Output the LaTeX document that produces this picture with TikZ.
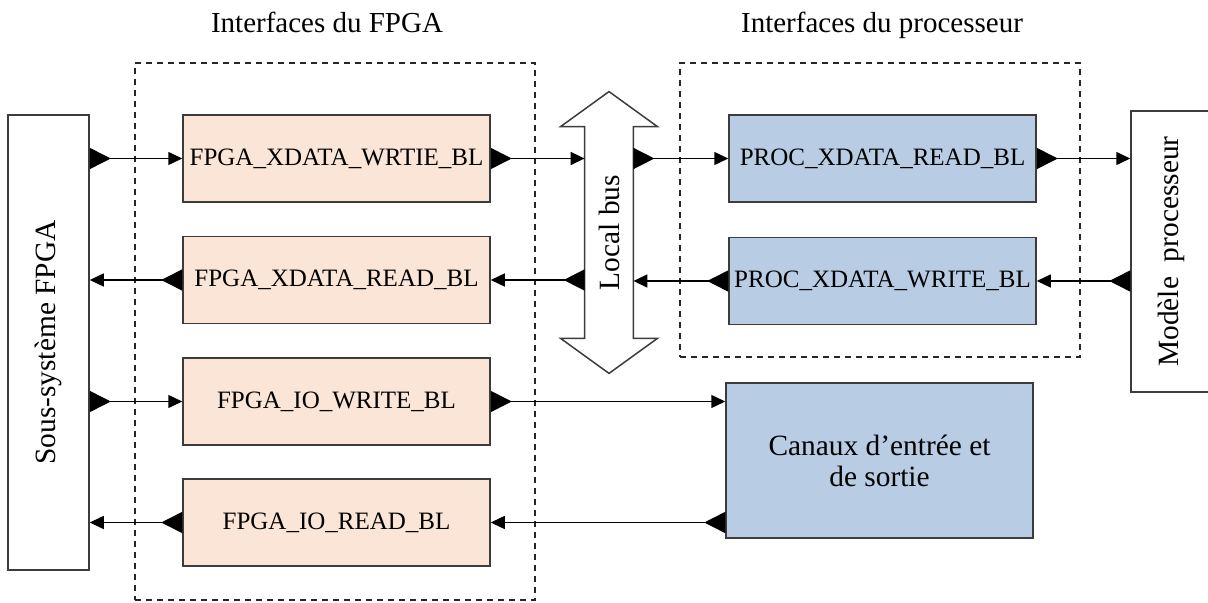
\documentclass[tikz,border=0pt]{standalone}
\usepackage{fontspec}
\setmainfont{Liberation Serif}
\usepackage{graphicx}
\usetikzlibrary{positioning, arrows.meta, calc}
\definecolor{cFpga}{RGB}{251,229,214}
\definecolor{cProc}{RGB}{184,204,228}
\definecolor{cEdge}{RGB}{60,60,60}

\begin{document}
\begin{tikzpicture}[x=0.5pt, y=-0.5pt,
    box/.style={draw=cEdge, line width=0.75pt, inner sep=0pt, minimum width=153.5pt, minimum height=43.5pt, font=\fontsize{12.5}{14}\selectfont},
    fpga/.style={box, fill=cFpga},
    proc/.style={box, fill=cProc},
    ext/.style={draw=cEdge, line width=0.75pt, inner sep=0pt, minimum width=40.5pt, font=\fontsize{14.7}{17}\selectfont},
    frame/.style={draw=black!85, dash pattern=on 3pt off 2.5pt, line width=0.6pt, inner sep=0pt},
    title/.style={font=\fontsize{14.5}{17}\selectfont, anchor=base},
    flow/.style={draw, line width=0.75pt, {Triangle[reversed, length=10.5pt, width=10.5pt]}-{Triangle[length=7pt, width=6.5pt]}}]
    \useasboundingbox (0,0) rectangle (1208,603);

    % groups
    \node[frame, minimum width=200pt, minimum height=268.5pt] (FF) at (335,331.5) {};
    \node[frame, minimum width=200pt, minimum height=147pt] (PF) at (880,210) {};
    \node[title] (TF) at (327,33) {Interfaces du FPGA};
    \node[title] (TP) at (882,33) {Interfaces du processeur};

    % blocks
    \node[ext, minimum height=227.5pt] (SS) at (48.5,342.5) {\rotatebox{90}{Sous-système FPGA}};
    \node[fpga] (FW) at (336.5,158.5) {FPGA\_XDATA\_WRTIE\_BL};
    \node[fpga] (FR) at (336.5,280) {FPGA\_XDATA\_READ\_BL};
    \node[fpga] (IOW) at (336.5,401.5) {FPGA\_IO\_WRITE\_BL};
    \node[fpga] (IOR) at (336.5,522.5) {FPGA\_IO\_READ\_BL};
    \node[proc] (PR) at (882.5,158.5) {PROC\_XDATA\_READ\_BL};
    \node[proc] (PW) at (882.5,281) {PROC\_XDATA\_WRITE\_BL};
    \node[proc, minimum height=77.5pt, font=\fontsize{14.7}{15.5}\selectfont, align=center] (CAN) at (879.5,460.5) {Canaux d’entrée et\\de sortie};
    \node[ext, minimum height=140.5pt] (MP) at (1171.5,251.5) {\rotatebox{90}{Modèle~~processeur}};

    % local bus
    \node[inner sep=0pt, minimum width=24pt, minimum height=105.5pt, font=\fontsize{14.7}{17}\selectfont] (BUS) at (609,232.5) {\rotatebox{90}{Local bus}};
    \draw[draw=cEdge, line width=0.75pt] (BUS.north west) -- ++(-24,0) -- ($(BUS.north)+(0,-35)$) -- ($(BUS.north east)+(24,0)$) -- (BUS.north east)
        -- (BUS.south east) -- ++(24,0) -- ($(BUS.south)+(0,35)$) -- ($(BUS.south west)+(-24,0)$) -- (BUS.south west) -- cycle;

    % data paths
    \path[flow] (SS.east |- FW.west) -- (FW.west);
    \path[flow] (FW.east) -- (FW.east -| BUS.west);
    \path[flow] (BUS.east |- PR.west) -- (PR.west);
    \path[flow] (PR.east) -- (PR.east -| MP.west);
    \path[flow] (FR.west) -- (FR.west -| SS.east);
    \path[flow] (BUS.west |- FR.east) -- (FR.east);
    \path[flow] (PW.west) -- (PW.west -| BUS.east);
    \path[flow] (MP.west |- PW.east) -- (PW.east);
    \path[flow] (SS.east |- IOW.west) -- (IOW.west);
    \path[flow] (IOW.east) -- (IOW.east -| CAN.west);
    \path[flow] (IOR.west) -- (IOR.west -| SS.east);
    \path[flow] (CAN.west |- IOR.east) -- (IOR.east);
\end{tikzpicture}
\end{document}
